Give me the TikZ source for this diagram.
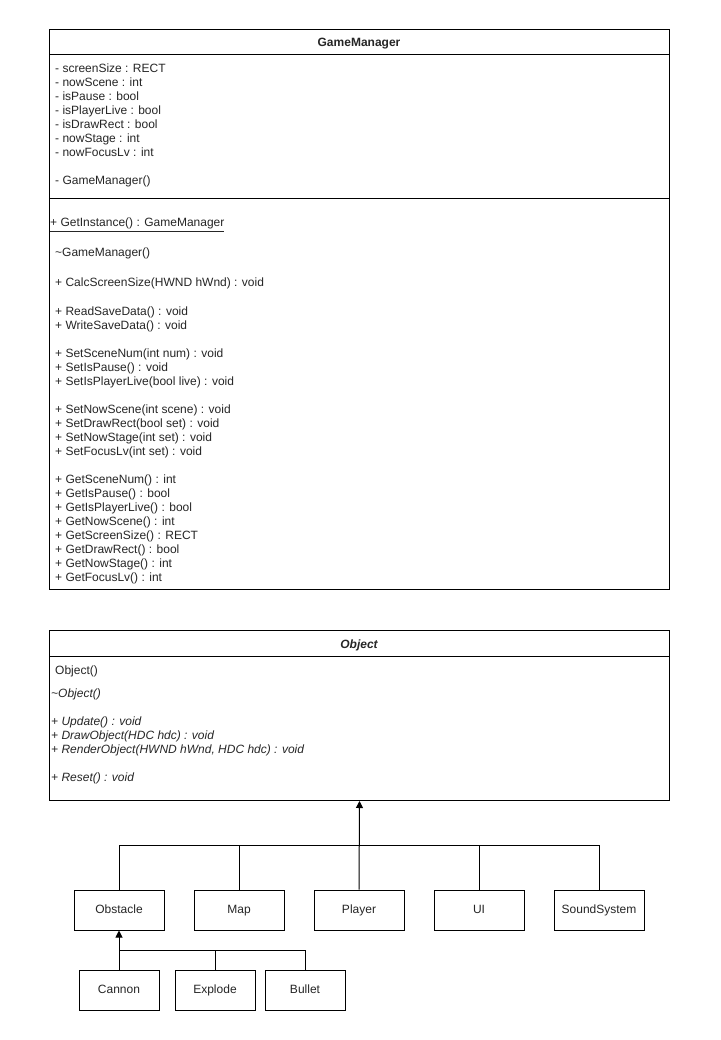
\documentclass[tikz,border=0pt]{standalone}
\usepackage{fontspec}
\setmainfont{Liberation Sans}
\usetikzlibrary{arrows.meta}
\begin{document}
\begin{tikzpicture}[x=1pt,y=-1pt,
  every node/.style={font=\fontsize{12}{14}\selectfont, text=black!85},
  box/.style={draw=black, line width=1pt, fill=white, inner sep=0pt},
  txt/.style={anchor=base west, inner sep=0pt},
  ttl/.style={anchor=base, inner sep=0pt, font=\fontsize{12}{14}\selectfont\bfseries},
  conn/.style={line width=1pt, draw=black},
  arr/.style={conn, -{Triangle[width=7pt,length=7pt]}}]
\useasboundingbox (0,0) rectangle (720,1040);
\fill[white] (0,0) rectangle (720,1040);

% GameManager class
\node[box, minimum width=620pt, minimum height=560pt, anchor=north west] (gm) at (49,29) {};
\draw[conn] (49,55) -- (669,55);
\draw[conn] (49,199) -- (669,199);
\node[ttl] (gmt) at (359,47) {GameManager};
\node[txt] (a1) at (55,73) {- screenSize : RECT};
\node[txt] (a2) at (55,87) {- nowScene : int};
\node[txt] (a3) at (55,101) {- isPause : bool};
\node[txt] (a4) at (55,115) {- isPlayerLive : bool};
\node[txt] (a5) at (55,129) {- isDrawRect : bool};
\node[txt] (a6) at (55,143) {- nowStage : int};
\node[txt] (a7) at (55,157) {- nowFocusLv : int};
\node[txt] (a8) at (55,185) {- GameManager()};
\node[txt] (m1) at (50,227) {\underline{+ GetInstance() : GameManager}};
\node[txt] (m2) at (55,257) {\textasciitilde GameManager()};
\node[txt] (m3) at (55,287) {+ CalcScreenSize(HWND hWnd) : void};
\node[txt] (m4) at (55,315) {+ ReadSaveData() : void};
\node[txt] (m5) at (55,329) {+ WriteSaveData() : void};
\node[txt] (m6) at (55,357) {+ SetSceneNum(int num) : void};
\node[txt] (m7) at (55,371) {+ SetIsPause() : void};
\node[txt] (m8) at (55,385) {+ SetIsPlayerLive(bool live) : void};
\node[txt] (m9) at (55,413) {+ SetNowScene(int scene) : void};
\node[txt] (m10) at (55,427) {+ SetDrawRect(bool set) : void};
\node[txt] (m11) at (55,441) {+ SetNowStage(int set) : void};
\node[txt] (m12) at (55,455) {+ SetFocusLv(int set) : void};
\node[txt] (m13) at (55,483) {+ GetSceneNum() : int};
\node[txt] (m14) at (55,497) {+ GetIsPause() : bool};
\node[txt] (m15) at (55,511) {+ GetIsPlayerLive() : bool};
\node[txt] (m16) at (55,525) {+ GetNowScene() : int};
\node[txt] (m17) at (55,539) {+ GetScreenSize() : RECT};
\node[txt] (m18) at (55,553) {+ GetDrawRect() : bool};
\node[txt] (m19) at (55,567) {+ GetNowStage() : int};
\node[txt] (m20) at (55,581) {+ GetFocusLv() : int};

% Object class
\node[box, minimum width=620pt, minimum height=170pt, anchor=north west] (obj) at (49,630) {};
\draw[conn] (49,656) -- (669,656);
\node[ttl, font=\fontsize{12}{14}\selectfont\bfseries\itshape] (objt) at (359,648) {Object};
\node[txt] (o1) at (55,674) {Object()};
\node[txt, font=\fontsize{12}{14}\selectfont\itshape] (o2) at (51,697) {\textasciitilde Object()};
\node[txt, font=\fontsize{12}{14}\selectfont\itshape] (o3) at (51,725) {+ Update() : void};
\node[txt, font=\fontsize{12}{14}\selectfont\itshape] (o4) at (51,739) {+ DrawObject(HDC hdc) : void};
\node[txt, font=\fontsize{12}{14}\selectfont\itshape] (o5) at (51,753) {+ RenderObject(HWND hWnd, HDC hdc) : void};
\node[txt, font=\fontsize{12}{14}\selectfont\itshape] (o6) at (51,781) {+ Reset() : void};

% Subclasses
\tikzset{cls/.style={box, minimum width=90pt, minimum height=40pt, text height=8.6pt, text depth=2.4pt},
         cls2/.style={cls, minimum width=80pt}}
\node[cls] (obstacle) at (119,910) {Obstacle};
\node[cls] (map) at (239,910) {Map};
\node[cls] (player) at (359,910) {Player};
\node[cls] (ui) at (479,910) {UI};
\node[cls] (sound) at (599,910) {SoundSystem};
\node[cls2] (cannon) at (119,990) {Cannon};
\node[cls2] (explode) at (215,990) {Explode};
\node[cls2] (bullet) at (305,990) {Bullet};

\coordinate (j1) at (359,845);
\coordinate (j2) at (119,950);

\draw[arr] (player.north) -- (obj.south);
\draw[conn] (obstacle.north) |- (j1);
\draw[conn] (map.north) -- (map.north |- j1);
\draw[conn] (ui.north) -- (ui.north |- j1);
\draw[conn] (sound.north) |- (j1);

\draw[arr] (cannon.north) -- (obstacle.south);
\draw[conn] (explode.north) |- (j2);
\draw[conn] (bullet.north) |- (j2);
\end{tikzpicture}
\end{document}
